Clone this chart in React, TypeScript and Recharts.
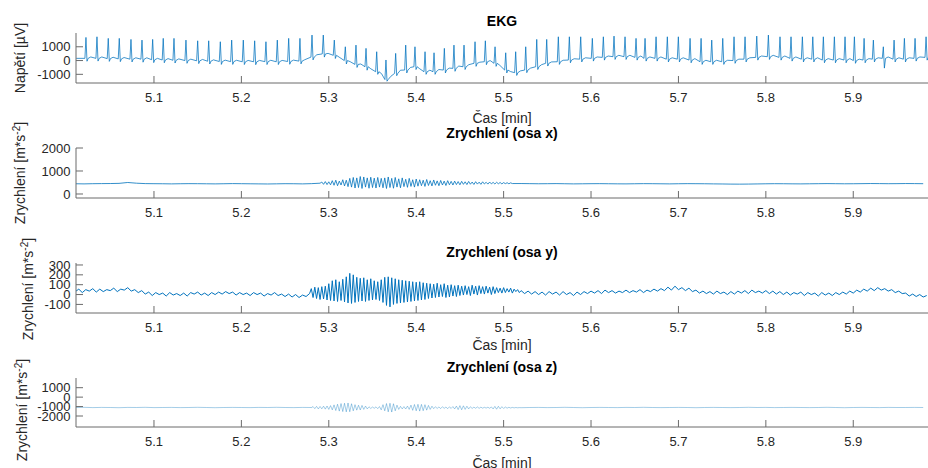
import React from 'react';
import { LineChart, Line, XAxis, YAxis } from 'recharts';

// ---------- axes ----------
const X_DOMAIN: [number, number] = [5.0108, 5.9855];
const X_TICKS = [5.1, 5.2, 5.3, 5.4, 5.5, 5.6, 5.7, 5.8, 5.9];

const EKG_Y_TICKS = [-1000, 0, 1000];
const ACCX_Y_TICKS = [0, 1000, 2000];
const ACCY_Y_TICKS = [-100, 0, 100, 200, 300];
const ACCZ_Y_TICKS = [-2000, -1000, 0, 1000];

// ---------- EKG (beats) ----------
const ekgBeatT = [
  5.0222, 5.0348, 5.0477, 5.0603, 5.0737, 5.0863, 5.0985, 5.1106, 5.1229, 5.1366,
  5.15, 5.1626, 5.1759, 5.1889, 5.2022, 5.2152, 5.2281, 5.2411, 5.2541, 5.267,
  5.2808, 5.2937, 5.3063, 5.3189, 5.3311, 5.3426, 5.3548, 5.3654, 5.3765, 5.388,
  5.3986, 5.4101, 5.4204, 5.4322, 5.4432, 5.4547, 5.4673, 5.4791, 5.4902, 5.5024,
  5.5138, 5.5253, 5.5379, 5.5493, 5.5626, 5.5752, 5.5882, 5.6015, 5.6141, 5.6263,
  5.6389, 5.6515, 5.6618, 5.6744, 5.6873, 5.6999, 5.7133, 5.7259, 5.7381, 5.7507,
  5.7636, 5.7762, 5.7896, 5.8029, 5.8162, 5.8288, 5.8418, 5.8537, 5.8658, 5.8784,
  5.8906, 5.9013, 5.9124, 5.923, 5.9344, 5.9467, 5.9585, 5.9707, 5.9833,
];
const ekgBase = [
  160, 160, 140, 120, 100, 100, 60, 40, 20, 0,
  -20, -50, -70, -80, -90, -90, -80, -90, -70, -40,
  250, 480, 380, 0, -280, -450, -810, -1380, -930, -690,
  -450, -810, -810, -690, -565, -450, -200, -87, -200, -690,
  -880, -690, -450, -200, -87, 36, 100, 160, 230, 280,
  280, 230, 160, 160, 100, 100, 36, -87, -87, -87,
  0, 100, 230, 280, 230, 160, 100, 100, 36, 36,
  36, 0, 36, 100, 160, 100, 100, 160, 230,
];
const ekgPeak = [
  1680, 1725, 1610, 1610, 1535, 1485, 1535, 1610, 1610, 1485,
  1435, 1435, 1365, 1485, 1485, 1435, 1365, 1485, 1610, 1610,
  1850, 1850, 1485, 1000, 1120, 885, 640, 40, 520, 1120,
  1000, 640, 565, 885, 1120, 1120, 1365, 1435, 1000, 565,
  640, 1000, 1535, 1535, 1725, 1725, 1725, 1610, 1725, 1775,
  1725, 1610, 1610, 1725, 1725, 1725, 1610, 1610, 1485, 1610,
  1725, 1725, 1775, 1850, 1725, 1725, 1725, 1725, 1725, 1725,
  1725, 1725, 1610, 1485, 1000, 1485, 1610, 1610, 1725,
];
const ekgS = [
  -50, -40, -60, -80, -100, -120, -150, -160, -180, -200,
  -220, -250, -280, -280, -290, -300, -290, -290, -270, -240,
  50, 250, 150, -250, -500, -700, -1000, -1500, -1100, -900,
  -650, -1000, -1000, -900, -780, -650, -420, -300, -420, -900,
  -1080, -880, -650, -400, -280, -160, -100, -40, 30, 80,
  80, 30, -40, -40, -100, -100, -160, -280, -280, -280,
  -200, -100, 30, 80, 30, -40, -100, -100, -160, -160,
  -160, -200, -160, -100, -550, -100, -100, -40, 30,
];
// T-wave level after each beat
const ekgTw = [
  260, 260, 240, 220, 200, 200, 160, 140, 120, 100,
  80, 50, 30, 20, 10, 10, 20, 10, 30, 60,
  420, 520, 250, -80, -250, -600, -950, -1150, -700, -500,
  -600, -700, -650, -550, -400, -300, -120, 0, -350, -800,
  -750, -550, -300, -100, 20, 130, 200, 260, 330, 380,
  380, 330, 260, 260, 200, 200, 140, 20, 20, 20,
  100, 200, 330, 380, 330, 260, 200, 200, 140, 140,
  140, 100, 140, 200, 260, 200, 200, 260, 330,
];
const ekgEdgeT = [5.011, 5.9855];
const ekgEdgeV = [160, 240];

// ---------- Accelerometer x ----------
const accXPre = [445, 440, 448, 452, 455, 462, 500, 470, 452, 448, 445, 440, 446, 450, 448, 444, 440, 446, 452, 448, 444, 440, 436, 442, 448, 446, 440, 450];
const accXBurst = [
  470, 520, 420, 540, 410, 530,
  400, 580, 380, 600, 360, 560, 390, 620, 350, 600,
  320, 680, 300, 720, 260, 700, 280, 760, 240, 740, 300, 700, 250, 730, 280, 690, 260, 720, 300, 680,
  270, 700, 240, 740, 280, 680, 250, 720, 300, 660, 270, 700, 320, 640, 290, 680, 330, 620, 300, 650,
  340, 620, 360, 600, 330, 630, 370, 580, 350, 610, 380, 570, 360, 590, 390, 560, 370, 580, 400, 550,
  390, 560, 410, 540, 400, 550, 420, 530, 410, 545, 425, 520, 415, 535, 430, 515, 420, 530, 435, 510,
  430, 520, 440, 505, 435, 510, 445, 500, 440, 495, 450, 490, 445, 485, 455,
];
const accXPost = [
  455, 450, 445, 448, 452, 446, 440, 444, 448, 450,
  446, 442, 440, 445, 450, 448, 444, 440, 446, 450,
  448, 445, 440, 436, 430, 428, 432, 438, 444, 448,
  446, 442, 440, 444, 448, 452, 448, 444, 446, 450,
  455, 452, 448, 450, 455, 452, 448,
];

// ---------- Accelerometer y ----------
const accYPre = [
  30, 55, 20, 50, 35, 60, 25, 55, 30, 50,
  40, 65, 30, 55, 45, 70, 35, 50, 20, 40,
  5, 25, -10, 20, 0, 15, -15, 20, -5, 10,
  -10, 15, -15, 20, 5, 25, -5, 15, -10, 20,
  0, 25, 5, 30, 10, 25, -5, 20, 0, 15,
  -10, 20, 0, 15, -15, 10, -5, 20, -10, 5,
  -20, 5, -25, 0, -30, -5, -20,
];
const accYBurst = [
  10, 60, -30, 75, -40, 70, -50, 80, -45, 85,
  -55, 110, -60, 140, -65, 150, -70, 130, -60, 155,
  -75, 180, -85, 215, -90, 200, -80, 175, -70, 165,
  -65, 170, -70, 150, -60, 160, -55, 140, -50, 130,
  -60, 150, -80, 175, -110, 180, -125, 170, -100, 160,
  -90, 150, -85, 145, -80, 140, -75, 135, -70, 130,
  -65, 125, -60, 130, -55, 120, -50, 115, -40, 110,
  -35, 105, -30, 115, -25, 100, -20, 110, -30, 95,
  -25, 100, -15, 90, -20, 95, -10, 85, -5, 90,
  0, 80, -10, 95, 5, 85, -5, 90, 10, 80,
  5, 85, 15, 75, 0, 80, 10, 70, 20, 65,
  15, 70, 20, 60, 25, 65, 15, 55, 30, 50, 20,
];
const accYPost = [
  40, 10, 35, 5, 30, 0, 25, -5, 30, 5,
  25, -5, 30, 0, 20, -10, 25, 0, 30, 10,
  35, 15, 40, 10, 45, 20, 40, 15, 35, 20,
  45, 20, 40, 25, 50, 20, 45, 30, 55, 35,
  60, 40, 75, 45, 85, 50, 70, 40, 65, 30,
  45, 15, 35, 10, 30, 5, 35, 10, 25, 0,
  30, 5, 35, 15, 40, 10, 45, 20, 35, 15,
  40, 10, 35, 5, 30, 0, 25, -5, 20, 5,
  25, -10, 20, 0, 15, -15, 20, -5, 15, -10,
  20, 0, 25, 5, 35, 15, 45, 25, 55, 35,
  65, 40, 70, 45, 60, 35, 50, 20, 35, 10,
  15, -15, 5, -20, 0, -25, -10,
];

// ---------- Accelerometer z ----------
const accZPre = [-1100, -1080, -1110, -1090, -1100, -1120, -1090, -1100, -1080, -1110, -1100, -1090, -1110, -1100, -1080, -1100, -1120, -1100, -1090, -1100, -1110, -1090, -1100, -1080, -1100, -1110, -1090, -1100];
const accZBurst = [
  -1120, -1000, -1220, -980, -1250, -990, -1240, -960, -1270, -940,
  -1300, -900, -1350, -820, -1420, -750, -1480, -680, -1530, -650,
  -1560, -620, -1550, -700, -1450, -800, -1380, -860, -1360, -880,
  -1300, -950, -1250, -1020, -1200, -1050, -1180, -1030, -1220, -1000,
  -1350, -800, -1450, -680, -1560, -650, -1580, -700, -1450, -850,
  -1300, -980, -1250, -1000, -1260, -950, -1300, -850, -1400, -780,
  -1450, -760, -1480, -770, -1440, -800, -1380, -880, -1300, -960,
  -1220, -1020, -1200, -1040, -1210, -1020, -1190, -1050, -1220, -1030,
  -1200, -1000, -1250, -950, -1320, -900, -1340, -920, -1300, -960,
  -1250, -1020, -1200, -1060, -1180, -1040, -1190, -1060, -1170, -1080,
  -1160, -1070, -1180, -1040, -1250, -980, -1280, -970, -1240, -1010,
  -1200, -1050, -1170, -1080, -1150, -1090, -1140, -1100, -1130, -1110, -1120,
];
const accZPost = [
  -1100, -1090, -1110, -1100, -1080, -1100, -1120, -1100, -1090, -1100,
  -1110, -1090, -1100, -1080, -1100, -1110, -1100, -1090, -1100, -1120,
  -1100, -1090, -1100, -1110, -1100, -1080, -1100, -1090, -1110, -1100,
  -1090, -1100, -1110, -1100, -1080, -1100, -1120, -1100, -1090, -1100,
  -1110, -1090, -1100, -1100, -1090, -1100,
];

// ---------- build tables ----------
type Pt = { t: number; v: number };
const seg = (t0: number, dt: number, vals: number[]): Pt[] =>
  vals.map((v, i) => ({ t: +(t0 + i * dt).toFixed(4), v }));

const ekgData: Pt[] = [
  { t: ekgEdgeT[0], v: ekgEdgeV[0] },
  ...ekgBeatT.flatMap((t, i) => [
    { t: t - 0.0012, v: ekgBase[i] },
    { t, v: ekgPeak[i] },
    { t: t + 0.0012, v: ekgS[i] },
    { t: t + 0.0025, v: ekgBase[i] },
    { t: t + 0.0055, v: ekgTw[i] },
  ]),
  { t: ekgEdgeT[1], v: ekgEdgeV[1] },
];
const accXData = [...seg(5.01, 0.01, accXPre), ...seg(5.29, 0.002, accXBurst), ...seg(5.52, 0.01, accXPost)];
const accYData = [...seg(5.01, 0.004, accYPre), ...seg(5.278, 0.002, accYBurst), ...seg(5.52, 0.004, accYPost)];
const accZData = [...seg(5.01, 0.01, accZPre), ...seg(5.28, 0.002, accZBurst), ...seg(5.53, 0.01, accZPost)];

// ---------- style ----------
const FONT = "'Liberation Sans', Arial, Helvetica, sans-serif";
const AX = '#6b6b6b';
const TXT = '#262626';
const BLUE = '#0072BD';

type PanelProps = {
  top: number;
  h: number;
  domain: [number, number];
  ticks: number[];
  data: Pt[];
  topLine: boolean;
  sw: number;
  op: number;
};

function Panel({ top, h, domain, ticks, data, topLine, sw, op }: PanelProps) {
  const mt = 10;
  return (
    <div style={{ position: 'absolute', left: 0, top: top - mt }}>
      <LineChart width={928} height={h + mt + 32} data={data} margin={{ top: mt, right: 0, bottom: 0, left: 0 }}>
        <XAxis
          xAxisId="b"
          type="number"
          dataKey="t"
          domain={X_DOMAIN}
          ticks={X_TICKS}
          allowDataOverflow
          interval={0}
          height={32}
          tickSize={-7}
          tickMargin={17}
          stroke={AX}
          tick={{ fontSize: 13, fill: TXT, fontFamily: FONT }}
          tickFormatter={(v: number) => v.toFixed(1)}
        />
        <XAxis
          xAxisId="t"
          orientation="top"
          type="number"
          dataKey="t"
          domain={X_DOMAIN}
          ticks={X_TICKS}
          allowDataOverflow
          interval={0}
          height={0}
          tickSize={-7}
          tick={false}
          axisLine={topLine}
          stroke={AX}
        />
        <YAxis
          type="number"
          domain={domain}
          ticks={ticks}
          allowDataOverflow
          interval={0}
          width={76}
          tickSize={-7}
          tickMargin={12.5}
          stroke={AX}
          tick={{ fontSize: 13, fill: TXT, fontFamily: FONT }}
        />
        <Line
          xAxisId="b"
          type="linear"
          dataKey="v"
          stroke={BLUE}
          strokeWidth={sw}
          strokeOpacity={op}
          dot={false}
          isAnimationActive={false}
        />
      </LineChart>
    </div>
  );
}

function YLab({ x, y, children }: { x: number; y: number; children: React.ReactNode }) {
  return (
    <text x={x} y={y} transform={`rotate(-90 ${x} ${y})`} textAnchor="middle" fontSize={14} fill={TXT} fontFamily={FONT}>
      {children}
    </text>
  );
}

function AccLabel() {
  return (
    <>
      Zrychlení [m*s
      <tspan dy={-5} fontSize={10}>-2</tspan>
      <tspan dy={5}>]</tspan>
    </>
  );
}

export default function App() {
  const cx = 502;
  return (
    <div style={{ position: 'absolute', left: 0, top: 0, width: 928, height: 468, background: '#fff', overflow: 'hidden' }}>
      <Panel top={33} h={50} domain={[-1630, 2000]} ticks={EKG_Y_TICKS} data={ekgData} topLine={false} sw={0.75} op={1} />
      <Panel top={148} h={50} domain={[-174, 2000]} ticks={ACCX_Y_TICKS} data={accXData} topLine={true} sw={0.8} op={1} />
      <Panel top={263} h={50} domain={[-187, 320]} ticks={ACCY_Y_TICKS} data={accYData} topLine={true} sw={1} op={1} />
      <Panel top={378} h={49} domain={[-3166, 2028]} ticks={ACCZ_Y_TICKS} data={accZData} topLine={false} sw={0.6} op={0.6} />
      <svg width={928} height={468} style={{ position: 'absolute', left: 0, top: 0, pointerEvents: 'none' }}>
        <g fontFamily={FONT} fill="#000">
          <text x={cx} y={26} textAnchor="middle" fontSize={14} fontWeight="bold">EKG</text>
          <text x={cx} y={138} textAnchor="middle" fontSize={14} fontWeight="bold">Zrychlení (osa x)</text>
          <text x={cx} y={257} textAnchor="middle" fontSize={14} fontWeight="bold">Zrychlení (osa y)</text>
          <text x={cx} y={372} textAnchor="middle" fontSize={14} fontWeight="bold">Zrychlení (osa z)</text>
        </g>
        <g fontFamily={FONT} fill={TXT} fontSize={14}>
          <text x={cx} y={123} textAnchor="middle">Čas [min]</text>
          <text x={cx} y={350} textAnchor="middle">Čas [min]</text>
          <text x={cx} y={468} textAnchor="middle">Čas [min]</text>
        </g>
        <YLab x={25} y={58}>Napětí [µV]</YLab>
        <YLab x={25} y={173}><AccLabel /></YLab>
        <YLab x={33} y={289}><AccLabel /></YLab>
        <YLab x={26.5} y={410}><AccLabel /></YLab>
      </svg>
    </div>
  );
}
